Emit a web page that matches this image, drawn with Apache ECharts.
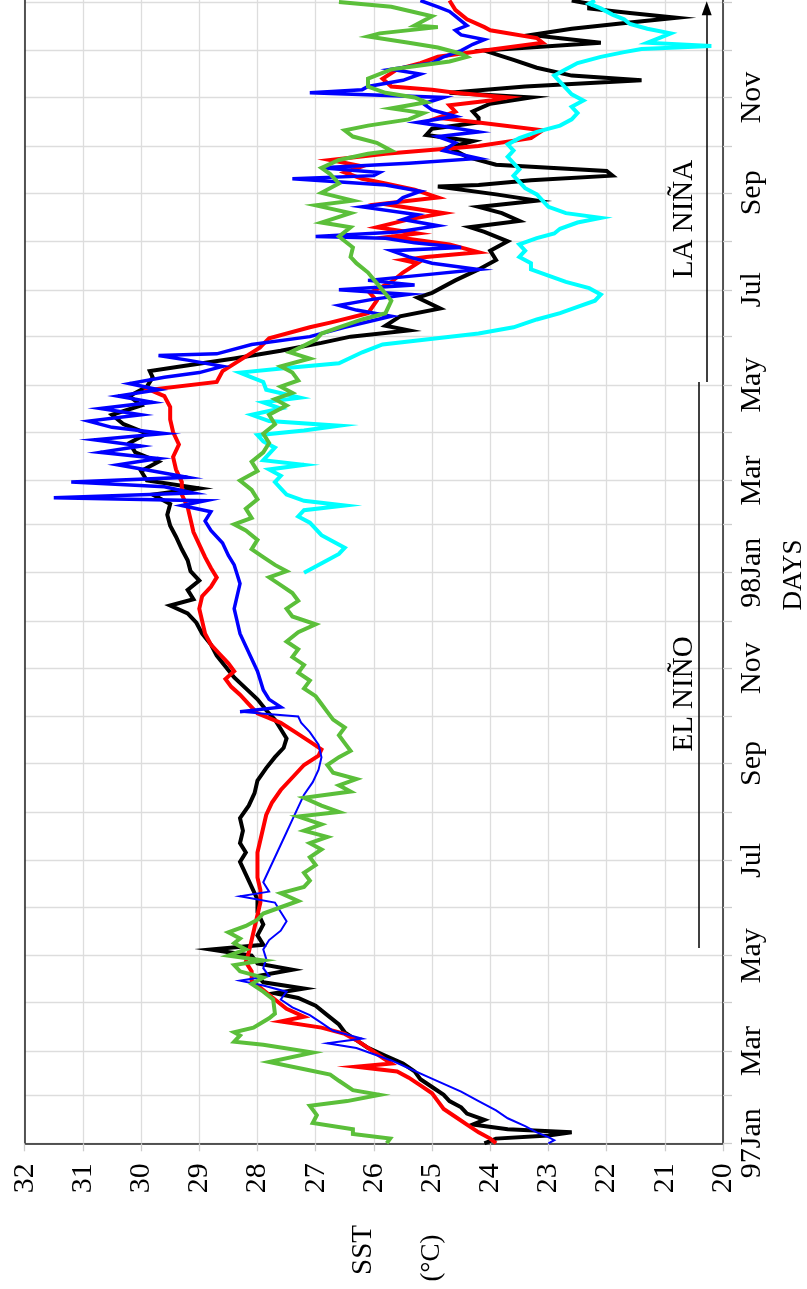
<!DOCTYPE html>
<html><head><meta charset="utf-8">
<script src="https://cdn.jsdelivr.net/npm/echarts@6/dist/echarts.min.js"></script>
<style>html,body{margin:0;padding:0;background:#fff}#c{width:807px;height:1289px}</style>
</head><body><div id="c"></div>
<script>
// Day axis: days since 1 Jan 1997
const monthStarts = [0,31,59,90,120,151,181,212,243,273,304,334,365,396,424,455,485,516,546,577,608,638,669,699,730];
const monthLabelDays = [0,59,120,181,243,304,365,424,485,546,608,669];
const monthLabels = ['97Jan','Mar','May','Jul','Sep','Nov','98Jan','Mar','May','Jul','Sep','Nov'];
const sstRange = [20, 32];
const dayRange = [0, 731.35];

// Series values: [day, SST °C]
const black = [[0,24.1],[3,23.9],[5,23.0],[7,22.6],[9,23.7],[12,24.3],[15,24.1],[19,24.4],[23,24.5],[27,24.7],[31,24.8],[36,25.0],[41,25.2],[46,25.3],[51,25.5],[56,25.8],[61,26.1],[66,26.3],[71,26.5],[76,26.6],[82,26.8],[88,27.0],[93,27.3],[96,27.7],[99,27.2],[103,27.9],[107,28.0],[111,27.4],[115,28.0],[120,28.1],[124,28.8],[127,27.9],[133,28.0],[140,27.9],[148,28.0],[156,28.0],[164,28.1],[172,28.2],[180,28.3],[186,28.2],[192,28.3],[200,28.25],[208,28.3],[216,28.15],[224,28.05],[232,28.0],[240,27.85],[247,27.7],[253,27.55],[259,27.5],[265,27.6],[271,27.7],[277,27.85],[284,28.0],[291,28.2],[298,28.4],[305,28.55],[312,28.7],[319,28.8],[326,28.95],[333,29.05],[339,29.2],[344,29.5],[348,29.1],[354,29.2],[360,29.0],[366,29.15],[373,29.2],[380,29.3],[388,29.4],[395,29.5],[402,29.55],[409,29.5],[415,29.8],[419,29.0],[424,29.9],[430,30.0],[436,29.7],[442,30.1],[448,30.2],[454,29.9],[460,30.3],[466,30.5],[472,30.0],[478,30.2],[484,29.9],[490,29.8],[494,29.85],[497,29.3],[502,28.4],[507,27.6],[512,26.9],[516,26.4],[520,25.4],[523,25.8],[529,25.55],[534,24.86],[541,25.25],[544,25.0],[552,24.6],[559,24.2],[565,23.9],[571,24.0],[577,23.7],[583,24.1],[586,24.35],[590,23.5],[595,23.8],[599,24.2],[603,23.2],[607,23.9],[612,24.9],[613,24.2],[616,23.3],[619,21.9],[622,22.0],[626,23.9],[631,24.4],[637,24.7],[641,24.3],[645,25.1],[649,25.0],[653,24.2],[656,24.2],[660,24.3],[665,24.0],[669,23.3],[672,24.7],[676,23.4],[680,21.4],[683,22.6],[688,23.2],[693,23.6],[699,24.1],[704,22.1],[709,23.3],[713,22.6],[717,21.6],[720,20.8],[723,21.6],[726,22.3],[729,22.3],[731,22.6]];

const red = [[0,23.9],[3,24.0],[7,24.2],[12,24.4],[17,24.6],[22,24.8],[27,24.9],[32,25.0],[37,25.2],[42,25.4],[46,25.6],[49,26.3],[51,25.7],[56,25.9],[61,26.1],[66,26.3],[70,26.5],[74,26.9],[78,27.6],[81,27.2],[86,27.5],[92,27.7],[98,27.9],[104,28.1],[110,28.1],[116,28.2],[122,28.15],[130,28.1],[138,28.05],[146,28.0],[154,27.95],[162,27.95],[170,28.0],[178,28.0],[186,28.0],[194,27.95],[202,27.9],[210,27.85],[218,27.75],[226,27.6],[234,27.4],[242,27.2],[248,26.95],[252,26.9],[257,27.1],[263,27.35],[269,27.6],[275,28.0],[281,28.15],[287,28.3],[292,28.45],[297,28.55],[302,28.4],[307,28.5],[313,28.65],[319,28.8],[326,28.9],[334,28.95],[342,29.0],[350,28.95],[356,28.8],[362,28.7],[368,28.8],[375,28.9],[383,29.0],[391,29.1],[399,29.15],[407,29.2],[415,29.3],[423,29.3],[431,29.4],[439,29.45],[447,29.35],[455,29.45],[463,29.5],[471,29.5],[478,29.6],[482,29.85],[487,28.7],[494,28.6],[501,28.3],[509,27.96],[515,27.8],[522,27.1],[525,26.75],[531,26.1],[539,25.95],[544,26.07],[551,25.7],[557,25.5],[563,25.25],[565,25.5],[567,25.1],[570,24.2],[575,24.7],[580,25.7],[582,25.25],[586,25.95],[591,25.4],[595,24.8],[601,25.85],[605,24.9],[610,25.3],[614,25.8],[617,26.2],[621,26.5],[625,26.2],[629,26.75],[633,25.8],[638,24.2],[643,23.3],[648,23.1],[653,24.2],[656,24.9],[660,24.6],[664,24.7],[667,24.0],[669,23.7],[672,24.6],[674,25.0],[676,25.7],[681,25.85],[687,25.6],[691,25.2],[695,24.9],[699,24.1],[704,23.1],[707,23.2],[712,24.0],[714,24.1],[719,24.4],[725,24.6],[731,24.7]];

const blueThin = [[0,23.0],[2,22.9],[4,23.0],[7,23.2],[11,23.4],[16,23.7],[21,23.9],[27,24.2],[33,24.5],[38,24.8],[43,25.1],[48,25.4],[53,25.7],[57,26.0],[61,26.3],[64,26.8],[67,26.2],[72,26.7],[77,26.9],[82,27.1],[87,27.4],[92,27.6],[97,27.5],[101,27.9],[104,28.3],[107,27.8],[112,27.9],[118,27.85],[124,27.9],[130,27.8],[136,27.6],[142,27.5],[148,27.6],[154,27.7],[158,28.3],[161,27.8],[167,27.9],[175,27.8],[183,27.7],[191,27.6],[199,27.5],[207,27.4],[215,27.3],[223,27.2],[231,27.05],[239,26.95],[247,26.9],[255,26.95],[263,27.1],[269,27.25],[273,27.3],[276,28.3]];

const blueThick = [[276,28.3],[279,27.6],[284,27.8],[290,27.9],[296,27.95],[302,28.0],[310,28.1],[318,28.2],[326,28.3],[334,28.35],[342,28.4],[350,28.35],[358,28.3],[364,28.35],[370,28.4],[376,28.5],[384,28.6],[392,28.8],[398,28.9],[404,28.8],[408,29.3],[411,28.9],[413,31.5],[416,29.1],[420,29.6],[423,31.2],[426,29.2],[430,29.8],[434,30.4],[438,29.7],[442,30.7],[446,30.0],[450,30.8],[454,29.6],[458,30.5],[462,30.9],[466,30.0],[470,30.7],[474,29.8],[478,30.4],[482,29.7],[486,30.2],[490,29.6],[493,29.0],[497,28.6],[501,29.2],[504,29.7],[505,28.7],[511,28.1],[516,27.1],[522,26.5],[529,25.7],[533,26.3],[536,26.6],[540,26.0],[543,25.4],[546,26.6],[549,25.3],[552,26.1],[556,25.0],[559,24.2],[563,25.0],[567,25.4],[571,25.7],[573,24.5],[576,25.3],[579,25.8],[580,27.0],[583,25.6],[587,24.9],[591,25.5],[594,25.25],[599,26.2],[602,25.6],[605,25.5],[609,25.2],[613,25.8],[617,27.4],[619,26.0],[621,25.9],[624,26.9],[627,25.4],[630,24.2],[635,24.8],[640,24.6],[644,24.9],[647,24.2],[650,24.7],[653,25.25],[657,24.6],[661,25.0],[665,25.15],[669,24.8],[672,27.1],[674,26.2],[676,26.1],[680,25.5],[684,25.2],[687,25.7],[691,25.0],[695,24.8],[699,24.5],[703,24.3],[706,24.1],[709,24.5],[712,24.6],[715,24.4],[718,24.5],[721,24.6],[724,24.7],[727,24.9],[731,25.2]];

const green = [[0,25.78],[3,25.72],[6,26.36],[9,26.36],[13,27.05],[18,26.98],[24,27.1],[27,26.46],[31,25.9],[34,26.36],[40,26.6],[44,26.75],[47,27.15],[52,27.8],[58,27.05],[63,27.9],[65,28.4],[69,28.3],[71,28.4],[74,28.07],[80,27.8],[83,27.7],[92,27.73],[97,27.9],[102,28.1],[106,27.9],[110,28.3],[114,28.4],[117,27.9],[120,28.5],[124,28.2],[128,28.4],[131,28.3],[135,28.5],[139,28.2],[143,28.0],[147,27.9],[151,27.6],[155,27.3],[160,27.6],[164,27.2],[168,27.1],[173,27.2],[178,27.0],[183,27.1],[188,26.9],[192,27.1],[196,26.8],[200,27.2],[204,26.9],[209,27.3],[212,26.6],[216,26.9],[221,27.2],[225,26.4],[229,26.6],[233,26.3],[237,26.7],[242,26.8],[247,26.6],[251,26.4],[256,26.5],[261,26.6],[266,26.5],[271,26.7],[276,26.8],[281,26.9],[286,27.0],[291,27.2],[296,27.1],[301,27.3],[306,27.2],[311,27.4],[316,27.3],[321,27.5],[327,27.3],[332,27.0],[337,27.4],[342,27.5],[347,27.3],[352,27.4],[357,27.6],[362,27.8],[366,27.5],[370,27.7],[375,27.9],[380,28.1],[386,28.0],[392,28.2],[396,28.4],[400,28.1],[406,28.2],[412,28.0],[418,28.1],[424,28.3],[430,28.0],[436,28.1],[442,27.9],[448,27.8],[454,27.9],[460,27.7],[466,27.8],[472,27.5],[476,27.7],[480,27.4],[484,27.6],[488,27.3],[493,27.4],[497,27.6],[502,27.1],[506,27.44],[509,27.27],[514,27.0],[518,26.9],[522,26.6],[527,26.2],[531,25.8],[539,25.7],[548,25.9],[557,26.1],[563,26.3],[567,26.4],[573,26.36],[580,26.6],[586,26.4],[589,26.9],[595,26.4],[600,27.0],[603,26.36],[608,26.9],[614,26.6],[620,26.75],[624,26.9],[629,26.6],[633,26.1],[635,25.7],[640,25.95],[644,26.36],[648,26.5],[651,26.1],[655,25.4],[659,25.15],[662,25.7],[666,25.1],[669,25.3],[672,25.8],[676,26.1],[681,26.1],[687,25.7],[689,25.3],[692,24.7],[695,24.4],[697,24.5],[701,24.9],[704,25.4],[708,26.1],[710,25.9],[714,24.9],[715,25.3],[721,25.0],[724,25.35],[727,25.7],[730,26.6]];

const cyan = [[365,27.2],[369,27.0],[373,26.8],[377,26.6],[381,26.5],[385,26.7],[389,26.9],[393,27.0],[397,27.1],[401,27.3],[405,27.2],[408,26.5],[411,27.2],[415,27.5],[419,27.6],[423,27.7],[427,27.6],[431,27.8],[434,27.2],[437,27.9],[441,27.8],[445,27.7],[449,27.9],[453,28.0],[456,27.2],[459,26.6],[462,27.8],[466,28.1],[470,27.6],[474,27.9],[477,27.27],[482,27.85],[487,27.9],[490,28.1],[493,28.3],[496,27.5],[499,26.6],[506,26.2],[511,25.85],[518,24.2],[522,23.6],[527,23.2],[531,22.8],[535,22.5],[539,22.2],[543,22.1],[547,22.3],[551,22.7],[555,23.0],[559,23.3],[563,23.3],[567,23.5],[571,23.4],[575,23.5],[579,23.2],[582,22.9],[585,22.8],[589,22.5],[592,22.1],[595,22.7],[599,23.0],[603,23.1],[607,23.2],[611,23.4],[615,23.5],[619,23.6],[623,23.5],[627,23.6],[631,23.7],[635,23.6],[639,23.7],[643,23.5],[647,23.2],[651,22.8],[655,22.6],[659,22.5],[663,22.6],[667,22.4],[671,22.6],[675,22.7],[679,22.8],[683,22.9],[687,22.7],[691,22.5],[695,22.1],[698,21.7],[700,21.4],[702,20.2],[704,21.3],[707,21.1],[710,20.9],[713,21.3],[716,21.6],[719,21.7],[722,21.9],[726,22.1],[729,22.3],[731,22.2]];

// Event spans (days) and where their markers sit on the SST scale
const elNino = {sst: 20.41, from: 125, to: 487, label: 'EL NIÑO'};
const laNina = {sst: 20.28, from: 487, to: 726, label: 'LA NIÑA'};

const FONT = '"Liberation Serif", "Times New Roman", serif';
const toXY = arr => arr.map(p => [p[1], p[0]]);
function line(name, data, color, width, z) {
  return {name, type: 'line', data: toXY(data), showSymbol: false, symbol: 'none',
    lineStyle: {color, width, join: 'miter'}, itemStyle: {color}, z, clip: true, animation: false};
}

const chart = echarts.init(document.getElementById('c'), null, {renderer: 'canvas'});
const series = [
  line('black', black, '#000000', 4, 2),
  line('red', red, '#ff0000', 4, 3),
  line('blueThin', blueThin, '#0000ff', 2, 4),
  line('blueThick', blueThick, '#0000ff', 3.5, 4),
  line('cyan', cyan, '#00ffff', 4, 5),
  line('green', green, '#5bbf3a', 4, 6)
];
series[0].markLine = {
  silent: true, animation: false, label: {show: false},
  lineStyle: {color: '#000', width: 1.5, type: 'solid'},
  data: [
    [{coord: [elNino.sst, elNino.from], symbol: 'none'}, {coord: [elNino.sst, elNino.to], symbol: 'none'}],
    [{coord: [laNina.sst, laNina.from], symbol: 'none'}, {coord: [laNina.sst, laNina.to], symbol: 'triangle', symbolSize: [10, 14]}]
  ]
};

const tickStyle = {color: '#cccccc', width: 1.3};
const gridStyle = {color: '#dddddd', width: 1.3};
const borderStyle = {color: '#222', width: 1.5};

chart.setOption({
  animation: false,
  backgroundColor: '#fff',
  grid: {left: 24.7, right: 84, top: 0, bottom: 145.7, show: false},
  xAxis: {
    type: 'value', min: sstRange[0], max: sstRange[1], interval: 1, inverse: true, position: 'bottom',
    axisLine: {show: true, lineStyle: borderStyle},
    axisTick: {show: true, inside: false, length: 8, lineStyle: tickStyle},
    splitLine: {show: true, lineStyle: gridStyle},
    axisLabel: {rotate: 90, margin: 20, fontSize: 30, fontFamily: FONT, color: '#000'}
  },
  yAxis: [{
    type: 'value', min: dayRange[0], max: dayRange[1], position: 'right',
    axisLine: {show: true, lineStyle: borderStyle},
    axisTick: {show: true, inside: false, length: 9, customValues: monthStarts, lineStyle: tickStyle},
    splitLine: {show: true, lineStyle: gridStyle},
    axisLabel: {rotate: 90, margin: 14, fontSize: 30, fontFamily: FONT, color: '#000',
      customValues: monthLabelDays,
      formatter: v => { const i = monthLabelDays.indexOf(Math.round(v)); return i >= 0 ? monthLabels[i] : ''; }}
  }, {
    type: 'value', min: dayRange[0], max: dayRange[1], position: 'left',
    axisLine: {show: true, lineStyle: borderStyle},
    axisTick: {show: false}, axisLabel: {show: false}, splitLine: {show: false}
  }],
  series
});

// Rotated text labels (axis titles and event names)
function rtext(text, x, y, size) {
  return {type: 'text', x, y, rotation: Math.PI / 2, z: 100,
    style: {text, fontSize: size, fontFamily: FONT, fill: '#000', align: 'center', verticalAlign: 'middle'}};
}
chart.setOption({graphic: [
  rtext('SST', 363, 1250, 29),
  rtext('(°C)', 432, 1258, 27),
  rtext('DAYS', 794, 575, 27),
  rtext(elNino.label, 684, 694, 29),
  rtext(laNina.label, 684, 219, 29)
]});
</script></body></html>
